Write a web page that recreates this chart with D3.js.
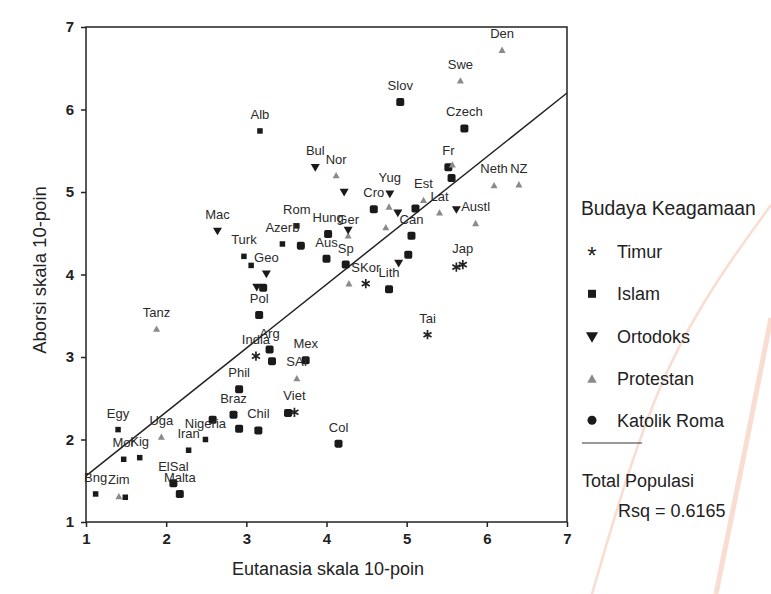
<!DOCTYPE html>
<html lang="id">
<head>
    <meta charset="UTF-8">
    <title>Aborsi vs Eutanasia</title>
    <script src="https://d3js.org/d3.v7.min.js"></script>
    <style>
        body { margin: 0; background: #fff; }
        svg text { font-family: "Liberation Sans", Arial, sans-serif; }
    </style>
</head>
<body>
    <svg width="771" height="594" id="chart"></svg>

    <script>
        // data
        const countries = ["Den", "Swe", "Slov", "Czech", "Alb", "Bul", "Nor", "", "Fr", "", "",
            "Neth", "NZ", "Yug", "Cro", "", "", "Est", "", "Lat", "", "Austl", "", "Can", "", "",
            "Lith", "SKor", "", "Jap", "", "Tai", "Col", "Mac", "Rom", "Azerb", "", "Hung", "Ger", "",
            "Aus", "Sp", "Turk", "", "Geo", "", "", "Pol", "Arg", "India", "", "Mex", "SAf", "Phil",
            "Braz", "Viet", "", "", "", "Chil", "Nigeria", "Iran", "Egy", "Uga", "Mor", "Kig", "Bng",
            "Zim", "", "ElSal", "Malta", "Tanz"];
        const culture = ["Protestan", "Protestan", "Katolik Roma", "Katolik Roma", "Islam", "Ortodoks",
            "Protestan", "Ortodoks", "Katolik Roma", "Protestan", "Katolik Roma", "Protestan", "Protestan",
            "Ortodoks", "Katolik Roma", "Protestan", "Ortodoks", "Protestan", "Katolik Roma", "Protestan",
            "Ortodoks", "Protestan", "Protestan", "Katolik Roma", "Katolik Roma", "Ortodoks", "Katolik Roma",
            "Timur", "Protestan", "Timur", "Timur", "Timur", "Katolik Roma", "Ortodoks", "Islam", "Islam",
            "Katolik Roma", "Katolik Roma", "Protestan", "Ortodoks", "Katolik Roma", "Katolik Roma", "Islam",
            "Islam", "Ortodoks", "Ortodoks", "Katolik Roma", "Katolik Roma", "Katolik Roma", "Timur",
            "Katolik Roma", "Katolik Roma", "Protestan", "Katolik Roma", "Katolik Roma", "Timur",
            "Katolik Roma", "Katolik Roma", "Katolik Roma", "Katolik Roma", "Islam", "Islam", "Islam",
            "Protestan", "Islam", "Islam", "Islam", "Protestan", "Islam", "Katolik Roma", "Katolik Roma",
            "Protestan"];
        const eutanasia = [6.19, 5.67, 4.92, 5.72, 3.17, 3.86, 4.12, 4.22, 5.52, 5.57, 5.56,
            6.09, 6.40, 4.79, 4.59, 4.78, 4.89, 5.21, 5.11, 5.41, 5.62, 5.86, 4.74, 5.06, 5.02, 4.90,
            4.78, 4.49, 4.28, 5.70, 5.62, 5.26, 4.15, 2.64, 3.63, 3.45, 3.68, 4.02, 4.27, 4.27,
            4.00, 4.24, 2.97, 3.06, 3.25, 3.13, 3.21, 3.16, 3.29, 3.12, 3.32, 3.74, 3.63, 2.91,
            2.84, 3.60, 3.52, 2.58, 2.91, 3.15, 2.49, 2.28, 1.40, 1.94, 1.47, 1.67, 1.12,
            1.41, 1.49, 2.09, 2.17, 1.88];
        const aborsi = [6.72, 6.35, 6.09, 5.77, 5.74, 5.30, 5.20, 5.00, 5.30, 5.33, 5.17,
            5.08, 5.09, 4.98, 4.79, 4.82, 4.75, 4.90, 4.80, 4.75, 4.79, 4.62, 4.57, 4.47, 4.24, 4.14,
            3.82, 3.89, 3.89, 4.12, 4.09, 3.27, 1.95, 4.53, 4.59, 4.37, 4.35, 4.49, 4.47, 4.54,
            4.19, 4.12, 4.22, 4.11, 4.01, 3.85, 3.84, 3.51, 3.09, 3.01, 2.95, 2.96, 2.74, 2.61,
            2.30, 2.33, 2.32, 2.24, 2.13, 2.11, 2.00, 1.87, 2.12, 2.03, 1.76, 1.78, 1.34,
            1.31, 1.30, 1.47, 1.34, 3.34];

        const cultureNames = ["Timur", "Islam", "Ortodoks", "Protestan", "Katolik Roma"];
        const axisTicks = [1, 2, 3, 4, 5, 6, 7];
        // fitted line (total population), end points
        const fitX = [1, 7];
        const fitY = [1.56, 6.2];
        const rsq = 0.6165;

        const svg = d3.select('#chart');

        // faint watermark arcs in the background
        const wm = svg.append("g").attr("opacity", 0.45);
        wm.append("path")
            .attr("d", d3.line().curve(d3.curveNatural)([[771, 205], [668, 370], [592, 594]]))
            .attr("fill", "none")
            .attr("stroke", "#f3b49a")
            .attr("stroke-width", 2.5);
        wm.append("path")
            .attr("d", d3.line().curve(d3.curveNatural)([[771, 318], [744, 455], [716, 594]]))
            .attr("fill", "none")
            .attr("stroke", "#f3b49a")
            .attr("stroke-width", 5);

        const x = d3.scaleLinear().domain([1, 7]).range([86, 567]);
        const y = d3.scaleLinear().domain([1, 7]).range([522, 27]);

        // white panel behind the plot
        svg.append("rect")
            .attr("x", x(1))
            .attr("y", y(7))
            .attr("width", x(7) - x(1))
            .attr("height", y(1) - y(7))
            .attr("fill", "#fff")
            .attr("stroke", "#222")
            .attr("stroke-width", 1.5);

        // axes
        const xAxis = svg.append("g")
            .attr("transform", "translate(0," + y(1) + ")")
            .call(d3.axisBottom(x).tickValues(axisTicks).tickSize(5).tickFormat(d3.format("d")));
        const yAxis = svg.append("g")
            .attr("transform", "translate(" + x(1) + ",0)")
            .call(d3.axisLeft(y).tickValues(axisTicks).tickSize(5).tickFormat(d3.format("d")));
        [xAxis, yAxis].forEach(ax => {
            ax.select(".domain").remove();
            ax.selectAll("line").attr("stroke", "#222").attr("stroke-width", 1.5);
            ax.selectAll("text")
                .attr("fill", "#222")
                .style("font-size", "15px")
                .style("font-weight", "bold");
        });
        xAxis.selectAll("text").attr("dy", "0.95em");
        yAxis.selectAll("text").attr("x", -12);

        // axis names
        svg.append("text")
            .attr("x", 328)
            .attr("y", 575)
            .attr("text-anchor", "middle")
            .style("font-family", "'Liberation Sans Narrow', 'Liberation Sans', sans-serif")
            .style("font-size", "18px")
            .attr("fill", "#222")
            .text("Eutanasia skala 10-poin");
        svg.append("text")
            .attr("transform", "translate(46,270) rotate(-90)")
            .attr("text-anchor", "middle")
            .style("font-family", "'Liberation Sans Narrow', 'Liberation Sans', sans-serif")
            .style("font-size", "18.5px")
            .attr("fill", "#222")
            .text("Aborsi skala 10-poin");

        // fit line
        svg.append("line")
            .attr("x1", x(fitX[0]))
            .attr("y1", y(fitY[0]))
            .attr("x2", x(fitX[1]))
            .attr("y2", y(fitY[1]))
            .attr("stroke", "#222")
            .attr("stroke-width", 1.5);

        // marker drawing
        function drawMarker(g, kind, cx, cy, scale) {
            const s = scale || 1;
            if (kind === "Timur") {
                g.append("path")
                    .attr("d", d3.symbol().type(d3.symbolAsterisk).size(60 * s)())
                    .attr("transform", "translate(" + cx + "," + cy + ")")
                    .attr("fill", "none")
                    .attr("stroke", "#222")
                    .attr("stroke-width", 1.7);
            } else if (kind === "Islam") {
                const w = 5.5 * s;
                g.append("rect")
                    .attr("x", cx - w / 2).attr("y", cy - w / 2)
                    .attr("width", w).attr("height", w)
                    .attr("fill", "#1a1a1a");
            } else if (kind === "Ortodoks") {
                const w = 9 * s;
                g.append("path")
                    .attr("d", "M" + (cx - w / 2) + "," + (cy - w * 0.35) + "L" + (cx + w / 2) + "," + (cy - w * 0.35) + "L" + cx + "," + (cy + w * 0.5) + "Z")
                    .attr("fill", "#1a1a1a");
            } else if (kind === "Protestan") {
                const w = 7 * s;
                g.append("path")
                    .attr("d", "M" + (cx - w / 2) + "," + (cy + w * 0.4) + "L" + (cx + w / 2) + "," + (cy + w * 0.4) + "L" + cx + "," + (cy - w * 0.5) + "Z")
                    .attr("fill", "#8a8a8a");
            } else {
                const w = 8 * s;
                g.append("rect")
                    .attr("x", cx - w / 2).attr("y", cy - w / 2)
                    .attr("width", w).attr("height", w)
                    .attr("rx", 1.8)
                    .attr("fill", "#1a1a1a");
            }
        }

        // points
        const pts = svg.append("g");
        countries.forEach((name, i) => {
            drawMarker(pts, culture[i], x(eutanasia[i]), y(aborsi[i]));
        });

        // country labels
        const labels = svg.append("g");
        countries.forEach((name, i) => {
            if (name === "") return;
            labels.append("text")
                .attr("x", x(eutanasia[i]))
                .attr("y", y(aborsi[i]) - 12)
                .attr("text-anchor", "middle")
                .style("font-size", "13px")
                .attr("fill", "#2a2a2a")
                .text(name);
        });

        // legend
        svg.append("text")
            .attr("x", 581)
            .attr("y", 215)
            .style("font-size", "19.3px")
            .attr("fill", "#222")
            .text("Budaya Keagamaan");

        cultureNames.forEach((c, i) => {
            const ly = 251 + i * 42.3;
            if (c === "Timur") {
                svg.append("text")
                    .attr("x", 592).attr("y", ly + 13)
                    .attr("text-anchor", "middle")
                    .style("font-size", "24px")
                    .attr("fill", "#222")
                    .text("*");
            } else if (c === "Katolik Roma") {
                svg.append("circle")
                    .attr("cx", 592).attr("cy", ly)
                    .attr("r", 4.5)
                    .attr("fill", "#1a1a1a");
            } else if (c === "Islam") {
                svg.append("rect")
                    .attr("x", 588).attr("y", ly - 3.5)
                    .attr("width", 8).attr("height", 8)
                    .attr("fill", "#1a1a1a");
            } else {
                drawMarker(svg, c, 592, ly + 1, 1.35);
            }
            svg.append("text")
                .attr("x", 617)
                .attr("y", ly + 7)
                .style("font-size", "18px")
                .attr("fill", "#222")
                .text(c);
        });

        svg.append("line")
            .attr("x1", 582).attr("x2", 642)
            .attr("y1", 443).attr("y2", 443)
            .attr("stroke", "#333")
            .attr("stroke-width", 1);

        svg.append("text")
            .attr("x", 582)
            .attr("y", 487)
            .style("font-family", "'Liberation Sans Narrow', 'Liberation Sans', sans-serif")
            .style("font-size", "18px")
            .attr("fill", "#222")
            .text("Total Populasi");
        svg.append("text")
            .attr("x", 618)
            .attr("y", 517)
            .style("font-family", "'Liberation Sans Narrow', 'Liberation Sans', sans-serif")
            .style("font-size", "18px")
            .attr("fill", "#222")
            .text("Rsq = " + rsq);
    </script>
</body>
</html>
